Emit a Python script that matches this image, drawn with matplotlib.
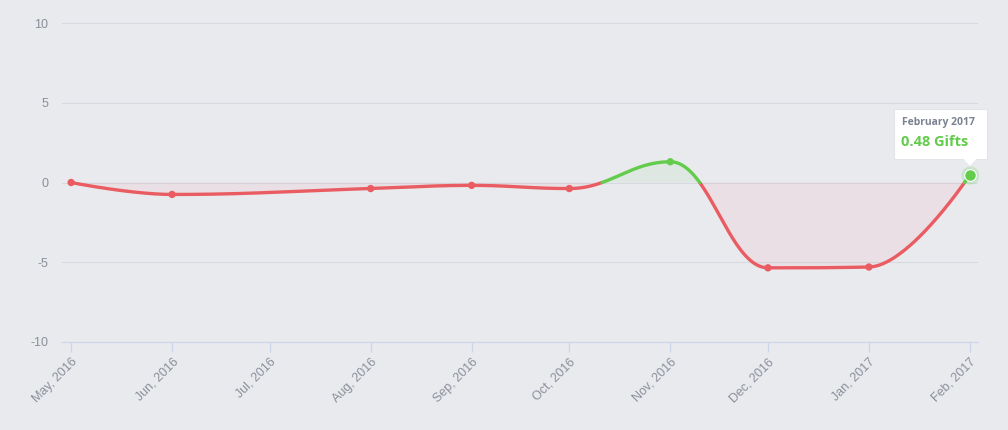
import matplotlib
matplotlib.use("Agg")
import matplotlib.pyplot as plt
from matplotlib.patches import Rectangle, Polygon
import numpy as np
import datetime as dt

# data
tick_dates = ["2016-05-01", "2016-06-01", "2016-07-01", "2016-08-01", "2016-09-01",
              "2016-10-01", "2016-11-01", "2016-12-01", "2017-01-01", "2017-02-01"]
tick_labels = ["May, 2016", "Jun, 2016", "Jul, 2016", "Aug, 2016", "Sep, 2016",
               "Oct, 2016", "Nov, 2016", "Dec, 2016", "Jan, 2017", "Feb, 2017"]
point_dates = ["2016-05-01", "2016-06-01", "2016-08-01", "2016-09-01", "2016-10-01",
               "2016-11-01", "2016-12-01", "2017-01-01", "2017-02-01"]
gifts = [0.0, -0.75, -0.38, -0.18, -0.38, 1.3, -5.35, -5.3, 0.48]
y_ticks = [-10, -5, 0, 5, 10]

RED = "#e95c62"
GREEN = "#63cc4b"
BG = "#e9eaee"
GRID = "#d6d9e0"
LABEL = "#8a8f99"

start = dt.date(2016, 5, 1)
def days(s):
    return (dt.date.fromisoformat(s) - start).days

tx = np.array([days(d) for d in tick_dates], float)
px = np.array([days(d) for d in point_dates], float)
py = np.array(gifts, float)


def spline_controls(x, y, smoothing=1.5):
    # highcharts-like spline control points
    n = len(x)
    lcx, lcy = x.copy(), y.copy()
    rcx, rcy = x.copy(), y.copy()
    denom = smoothing + 1
    for i in range(1, n - 1):
        lx = (smoothing * x[i] + x[i - 1]) / denom
        ly = (smoothing * y[i] + y[i - 1]) / denom
        rx = (smoothing * x[i] + x[i + 1]) / denom
        ry = (smoothing * y[i] + y[i + 1]) / denom
        corr = ((ry - ly) * (rx - x[i])) / (rx - lx) + y[i] - ry
        ly += corr
        ry += corr
        if ly > y[i - 1] and ly > y[i]:
            ly = max(y[i - 1], y[i]); ry = 2 * y[i] - ly
        elif ly < y[i - 1] and ly < y[i]:
            ly = min(y[i - 1], y[i]); ry = 2 * y[i] - ly
        if ry > y[i + 1] and ry > y[i]:
            ry = max(y[i + 1], y[i]); ly = 2 * y[i] - ry
        elif ry < y[i + 1] and ry < y[i]:
            ry = min(y[i + 1], y[i]); ly = 2 * y[i] - ry
        lcx[i], lcy[i], rcx[i], rcy[i] = lx, ly, rx, ry
    return lcx, lcy, rcx, rcy


lcx, lcy, rcx, rcy = spline_controls(px, py)
t = np.linspace(0, 1, 120)
cx, cy = [], []
for i in range(len(px) - 1):
    p0 = np.array([px[i], py[i]]); p1 = np.array([rcx[i], rcy[i]])
    p2 = np.array([lcx[i + 1], lcy[i + 1]]); p3 = np.array([px[i + 1], py[i + 1]])
    b = ((1 - t) ** 3)[:, None] * p0 + (3 * (1 - t) ** 2 * t)[:, None] * p1 \
        + (3 * (1 - t) * t ** 2)[:, None] * p2 + (t ** 3)[:, None] * p3
    cx.extend(b[:, 0]); cy.extend(b[:, 1])
cx = np.array(cx); cy = np.array(cy)

# insert zero crossings so zone colours meet exactly
xs, ys = [cx[0]], [cy[0]]
for i in range(1, len(cx)):
    if (cy[i - 1] < 0 < cy[i]) or (cy[i - 1] > 0 > cy[i]):
        f = cy[i - 1] / (cy[i - 1] - cy[i])
        xs.append(cx[i - 1] + f * (cx[i] - cx[i - 1])); ys.append(0.0)
    xs.append(cx[i]); ys.append(cy[i])
xs = np.array(xs); ys = np.array(ys)

fig = plt.figure(figsize=(10.08, 4.30), dpi=100, facecolor=BG)
ax = fig.add_axes([62 / 1008, 88 / 430, 916 / 1008, 319 / 430])
ax.set_facecolor(BG)

ax.fill_between(xs, ys, 0, where=ys <= 0, color=RED, alpha=0.07, lw=0)
ax.fill_between(xs, ys, 0, where=ys >= 0, color=GREEN, alpha=0.07, lw=0)
ax.plot(xs, np.where(ys <= 0, ys, np.nan), color=RED, lw=2.4, solid_capstyle="round", zorder=3)
ax.plot(xs, np.where(ys >= 0, ys, np.nan), color=GREEN, lw=2.4, solid_capstyle="round", zorder=3)

mcol = [GREEN if v > 0 else RED for v in gifts]
ax.scatter(px[:-1], py[:-1], s=28, c=mcol[:-1], zorder=4, linewidths=0)
# hovered last point
ax.scatter(px[-1:], py[-1:], s=170, c=GREEN, alpha=0.22, zorder=4, linewidths=0)
ax.scatter(px[-1:], py[-1:], s=70, c=GREEN, zorder=5, edgecolors="white", linewidths=0.8)

ax.set_xlim(-2.8, tx[-1] + 2.5)
ax.set_ylim(-10, 10)
ax.set_yticks(y_ticks)
ax.set_yticklabels([str(v) for v in y_ticks])
ax.set_xticks(tx)
ax.set_xticklabels(tick_labels, rotation=45, ha="right", va="top", rotation_mode="anchor")
for lab in ax.get_xticklabels() + ax.get_yticklabels():
    lab.set_family(["Liberation Sans", "DejaVu Sans"])
    lab.set_color(LABEL)
    lab.set_fontsize(9)
ax.tick_params(axis="y", length=0, pad=10)
ax.tick_params(axis="x", length=7, color="#ccd6eb", width=1, pad=3)
ax.grid(axis="y", color=GRID, lw=0.8)
ax.set_axisbelow(True)
for s in ["top", "right", "left"]:
    ax.spines[s].set_visible(False)
ax.spines["bottom"].set_color("#ccd6eb")

# tooltip
fig.canvas.draw()
fx, fy = ax.transData.transform((px[-1], py[-1]))
W, H = 1008.0, 430.0
bx0, by0 = fx - 76, fy + 16
bw, bh = 93, 50
fig.patches.append(Rectangle((bx0 / W, by0 / H), bw / W, bh / H, transform=fig.transFigure,
                             facecolor="white", edgecolor="#e2e4ea", lw=0.8, zorder=10))
fig.patches.append(Polygon([((fx - 7) / W, (by0 + 0.5) / H), ((fx + 7) / W, (by0 + 0.5) / H),
                            (fx / W, (by0 - 7) / H)], closed=True, transform=fig.transFigure,
                           facecolor="white", edgecolor="none", zorder=11))
fig.text((bx0 + 8) / W, (by0 + bh - 14) / H, "February 2017", family=["Open Sans", "DejaVu Sans"],
         fontsize=7.5, fontweight="bold", color="#7b8290", va="center", zorder=12)
fig.text((bx0 + 7) / W, (by0 + bh - 33) / H, "0.48 Gifts", family=["Open Sans", "DejaVu Sans"],
         fontsize=10.5, fontweight="bold", color=GREEN, va="center", zorder=12)

fig.savefig("out.png", dpi=100, facecolor=BG)
